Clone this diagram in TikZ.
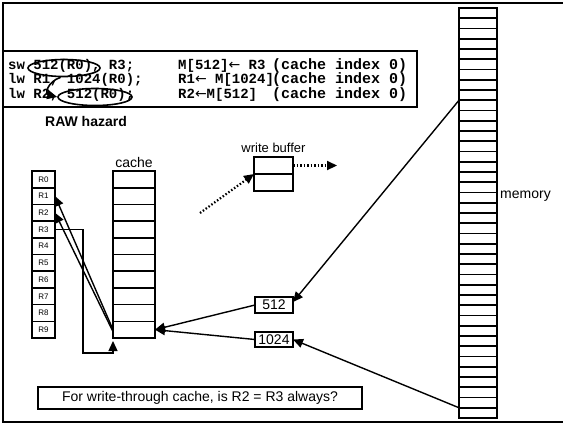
\documentclass[tikz,border=0pt]{standalone}
\usepackage{fontspec}
\setmainfont{Liberation Sans}
\newfontfamily\codefont{Liberation Mono}
\newfontfamily\arrowfont{DejaVu Sans}
\newcommand{\larr}{{\arrowfont\mdseries ←}}
\usetikzlibrary{arrows.meta,shapes.geometric,calc}
\begin{document}
\begin{tikzpicture}[x=1pt,y=-1pt,
  cell/.style={draw,line width=1.6pt,inner sep=0pt,outer sep=0pt},
  regcell/.style={cell,minimum width=23pt,minimum height=16.7pt,font=\fontsize{8}{9}\selectfont},
  cachecell/.style={cell,minimum width=42pt,minimum height=16.7pt},
  memcell/.style={cell,minimum width=38pt,minimum height=10.25pt},
  wbcell/.style={cell,minimum width=39pt,minimum height=17pt},
  addrbox/.style={cell,minimum width=38pt,minimum height=15.5pt,font=\fontsize{14}{16}\selectfont},
  lbl/.style={font=\fontsize{14}{16}\selectfont,inner sep=0pt},
  code/.style={font=\codefont\bfseries\fontsize{14}{16}\selectfont,inner sep=0pt,anchor=base west},
  codeR/.style={font=\codefont\bfseries\fontsize{15}{17}\selectfont,inner sep=0pt,anchor=base west},
  arr/.style={line width=1.4pt,-{Triangle[length=10pt,width=9pt]}},
  dotarr/.style={line width=2.2pt,dash pattern=on 1.5pt off 2pt,-{Triangle[length=10pt,width=9pt]}},
  ring/.style={draw,ellipse,line width=1.6pt,inner sep=0pt}
]
\useasboundingbox (0,0) rectangle (563,424);
% frame
\draw[line width=2pt] (563,2.5) -- (2.5,2.5) -- (2.5,421.5) -- (563,421.5);

% code box
\node[cell,minimum width=414.5pt,minimum height=56pt,anchor=north west] (codebox) at (2.5,51) {};
\node[code] (l1a) at (8,69) {sw 512(R0), R3;};
\node[code] (l2a) at (8,83.5) {lw R1, 1024(R0);};
\node[code] (l3a) at (8,98) {lw R2, 512(R0);};
\node[code] (l1b) at (178,69) {M[512]\larr{} R3};
\node[code] (l2b) at (178,83.5) {R1\larr{} M[1024]};
\node[code] (l3b) at (178,98) {R2\larr M[512]};
\node[codeR] (l1c) at (272,69) {(cache index 0)};
\node[codeR] (l2c) at (272,83.5) {(cache index 0)};
\node[codeR] (l3c) at (272,98) {(cache index 0)};
\node[ring,minimum width=72pt,minimum height=17pt] (e1) at (64,68) {};
\node[ring,minimum width=74pt,minimum height=17pt] (e3) at (95,97) {};
\draw[arr,line width=1.6pt] (e1.250) .. controls (47,82) and (45,94) .. (e3.west);

\node[lbl,font=\bfseries\fontsize{14}{16}\selectfont,anchor=west] (raw) at (45,121) {RAW hazard};

% registers and cache
\foreach \i in {0,...,9} {
  \node[regcell] (r\i) at (43.5,{179.35+16.7*\i}) {R\i};
  \node[cachecell] (c\i) at (134,{179.35+16.7*\i}) {};
}
\node[lbl] (cachelbl) at (134,162) {cache};

% memory
\foreach \i in {0,...,39} {
  \node[memcell] (m\i) at (478,{13.125+10.25*\i}) {};
}
\node[lbl,anchor=west] (memlbl) at (500,196) {memory};

% write buffer
\node[wbcell] (wb0) at (273.5,165.5) {};
\node[wbcell] (wb1) at (273.5,182.5) {};
\node[lbl,font=\fontsize{13}{15}\selectfont] (wblbl) at (273.5,148) {write buffer};

% address boxes
\node[addrbox] (a512) at (274,305) {512};
\node[addrbox] (a1024) at (274,339.5) {1024};

% question
\node[cell,minimum width=324pt,minimum height=22pt,font=\fontsize{14}{16}\selectfont] (q) at (200,398) {For write-through cache, is R2 = R3 always?};

% connectors
\draw[arr] (m9.north west) -- ([yshift=3pt]a512.east);
\draw[arr] (m39.north west) -- (a1024.east);
\draw[arr] (a512.west) -- (c9.east);
\draw[arr] (a1024.west) -- (c9.east);
\draw[arr] (c9.west) -- (r1.east);
\draw[arr] ([yshift=-2pt]c9.west) -- (r2.east);
\draw[arr,shorten >=3pt] (r3.east) -- ++(28,0) |- ($(c9.south west)+(0,15)$) -- (c9.south west);

\coordinate (din) at (200,213);
\coordinate (dout) at ($(wb0.east)+(44,0)$);
\draw[dotarr] (din) -- (wb0.south west);
\draw[dotarr] (wb0.east) -- (dout);
\end{tikzpicture}
\end{document}
